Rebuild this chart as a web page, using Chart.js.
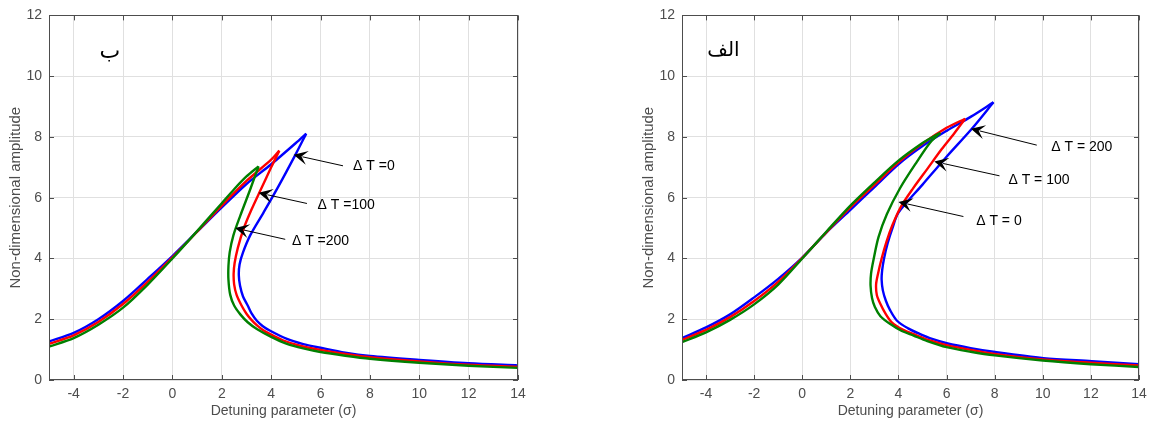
<!DOCTYPE html>
<html><head><meta charset="utf-8">
<script src="https://cdn.jsdelivr.net/npm/chart.js@4.4.1/dist/chart.umd.min.js"></script>
<style>
html,body{margin:0;padding:0;background:#fff;width:1165px;height:428px;overflow:hidden}
canvas{position:absolute;top:0}
</style></head><body>
<canvas id="left" width="540" height="428" style="left:0px"></canvas>
<canvas id="right" width="528" height="428" style="left:633px"></canvas>
<script>
// ---------- tick labels ----------
const xTicks = [-4, -2, 0, 2, 4, 6, 8, 10, 12, 14];
const yTicks = [0, 2, 4, 6, 8, 10, 12];

// ================= left panel (ب) =================
// ΔT = 0 (blue): upper branch up to the peak, then the return branch
const leftUp0x  = [-5,-4,-3,-2,-1,0,1,2,3,4,5,5.42];
const leftUp0y  = [1.27,1.55,2.0,2.6,3.33,4.08,4.88,5.68,6.45,7.1,7.8,8.11];
const leftRet0x = [5.42,4.98,4.30,3.69,3.15,2.86,2.72,2.69,2.74,2.86,3.05,3.2,3.42,3.65,3.96,4.64,5.3,6.0,7.0,8.0,10.0,12.0,14.0];
const leftRet0y = [8.11,7.41,6.38,5.51,4.76,4.2,3.8,3.45,3.1,2.75,2.45,2.2,1.95,1.78,1.62,1.35,1.18,1.06,0.9,0.79,0.66,0.55,0.48];
// ΔT = 100 (red)
const leftUp100x  = [-5,-4,-3,-2,-1,0,1,2,3,4,4.33];
const leftUp100y  = [1.19,1.47,1.91,2.5,3.23,4.04,4.88,5.74,6.55,7.25,7.55];
const leftRet100x = [4.33,4.0,3.6,3.2,2.88,2.65,2.52,2.48,2.5,2.6,2.8,3.0,3.2,3.45,3.75,4.5,5.2,6.0,7.0,8.0,10.0,12.0,14.0];
const leftRet100y = [7.55,7.0,6.3,5.6,4.97,4.35,3.85,3.5,3.15,2.8,2.45,2.18,1.98,1.78,1.6,1.3,1.12,0.99,0.86,0.75,0.61,0.5,0.43];
// ΔT = 200 (green)
const leftUp200x  = [-5,-4,-3,-2,-1,0,1,2,2.5,3,3.49];
const leftUp200y  = [1.10,1.38,1.82,2.38,3.14,4.0,4.9,5.82,6.28,6.7,7.03];
const leftRet200x = [3.49,3.15,2.75,2.47,2.32,2.27,2.27,2.34,2.5,2.75,3.05,3.42,4.0,4.64,5.3,6.0,7.0,8.0,10.0,12.0,14.0];
const leftRet200y = [7.03,6.27,5.41,4.76,4.2,3.75,3.3,2.81,2.45,2.16,1.9,1.68,1.42,1.19,1.04,0.92,0.8,0.70,0.57,0.47,0.40];

// ================= right panel (الف) =================
// ΔT = 0 (blue)
const rightUp0x  = [-5,-4,-3,-2,-1,0,1,2,3,4,5,6,7,7.95];
const rightUp0y  = [1.38,1.73,2.16,2.72,3.33,4.03,4.85,5.6,6.35,7.1,7.7,8.2,8.66,9.14];
const rightRet0x = [7.95,7.05,6.0,5.0,4.0,3.75,3.55,3.4,3.32,3.3,3.35,3.48,3.65,3.94,4.4,4.9,5.4,6.01,7.0,8.02,10.03,12.04,14.0];
const rightRet0y = [9.14,8.27,7.35,6.43,5.51,5.0,4.5,4.0,3.6,3.3,2.95,2.6,2.3,1.95,1.7,1.51,1.35,1.21,1.05,0.92,0.72,0.62,0.52];
// ΔT = 100 (red)
const rightUp100x  = [-5,-4,-3,-2,-1,0,1,2,3,4,5,6,6.77];
const rightUp100y  = [1.32,1.65,2.07,2.6,3.23,4.02,4.86,5.68,6.42,7.16,7.78,8.3,8.6];
const rightRet100x = [6.77,6.3,5.8,5.2,4.6,4.1,3.75,3.5,3.3,3.15,3.07,3.1,3.25,3.45,3.72,4.2,4.75,5.3,6.0,7.0,8.0,10.0,12.0,14.0];
const rightRet100y = [8.6,8.1,7.6,6.95,6.3,5.7,5.1,4.55,4.0,3.5,3.15,2.8,2.5,2.2,1.9,1.65,1.47,1.3,1.15,0.99,0.86,0.68,0.57,0.48];
// ΔT = 200 (green)
const rightUp200x  = [-5,-4,-3,-2,-1,0,1,2,3,4,5,5.5,5.74];
const rightUp200y  = [1.25,1.57,1.98,2.49,3.14,4.0,4.88,5.74,6.5,7.22,7.8,8.03,8.13];
const rightRet200x = [5.74,5.32,4.77,4.07,3.52,3.17,2.96,2.86,2.84,2.9,3.02,3.25,3.66,4.1,4.63,5.2,6.0,7.0,8.0,10.0,12.0,14.0];
const rightRet200y = [8.13,7.82,7.19,6.32,5.46,4.70,3.95,3.5,3.1,2.7,2.4,2.1,1.84,1.63,1.46,1.28,1.08,0.93,0.81,0.64,0.52,0.43];

const seriesColors = {dt0:'#0000ff', dt100:'#ff0000', dt200:'#008000'};

// annotation arrows (head, tail, label position in data units)
const leftNotes = [
  {hx:4.91,hy:7.41, tx:6.91,ty:7.05, lx:7.32,ly:7.03, text:'\u0394 T =0'},
  {hx:3.49,hy:6.16, tx:5.45,ty:5.81, lx:5.88,ly:5.75, text:'\u0394 T =100'},
  {hx:2.54,hy:5.0,  tx:4.57,ty:4.63, lx:4.84,ly:4.56, text:'\u0394 T =200'}
];
const rightNotes = [
  {hx:7.01,hy:8.27, tx:9.75,ty:7.73, lx:10.35,ly:7.65, text:'\u0394 T = 200'},
  {hx:5.49,hy:7.19, tx:8.20,ty:6.72, lx:8.57,ly:6.57, text:'\u0394 T = 100'},
  {hx:4.0,hy:5.86,  tx:6.70,ty:5.38, lx:7.23,ly:5.24, text:'\u0394 T = 0'}
];

const axisColor = '#4d4d4d';
const gridColor = '#e0e0e0';
const FONT = '"Liberation Sans", Arial, sans-serif';

const decoPlugin = {
  id: 'panelDeco',
  afterDraw(chart, args, opts) {
    const ctx = chart.ctx, a = chart.chartArea;
    const xs = chart.scales.x, ys = chart.scales.y;
    ctx.save();
    ctx.strokeStyle = axisColor; ctx.lineWidth = 1;
    ctx.strokeRect(Math.round(a.left)+0.5, Math.round(a.top)+0.5, Math.round(a.right-a.left)-1, Math.round(a.bottom-a.top)-1);
    ctx.beginPath();
    xTicks.forEach(v => {
      const p = Math.round(xs.getPixelForValue(v)) + 0.5;
      ctx.moveTo(p, a.bottom); ctx.lineTo(p, a.bottom - 5);
      ctx.moveTo(p, a.top); ctx.lineTo(p, a.top + 5);
    });
    yTicks.forEach(v => {
      const p = Math.round(ys.getPixelForValue(v)) + 0.5;
      ctx.moveTo(a.left, p); ctx.lineTo(a.left + 5, p);
      ctx.moveTo(a.right, p); ctx.lineTo(a.right - 5, p);
    });
    ctx.stroke();
    (opts.notes || []).forEach(n => {
      const hx = xs.getPixelForValue(n.hx), hy = ys.getPixelForValue(n.hy);
      const tx = xs.getPixelForValue(n.tx), ty = ys.getPixelForValue(n.ty);
      const ang = Math.atan2(hy - ty, hx - tx);
      const c = Math.cos(ang), s = Math.sin(ang);
      ctx.strokeStyle = '#000'; ctx.fillStyle = '#000'; ctx.lineWidth = 1;
      ctx.beginPath(); ctx.moveTo(tx, ty); ctx.lineTo(hx - 9*c, hy - 9*s); ctx.stroke();
      const L = 14, W = 7, N = 8;
      ctx.beginPath();
      ctx.moveTo(hx, hy);
      ctx.lineTo(hx - L*c + W*s, hy - L*s - W*c);
      ctx.lineTo(hx - N*c, hy - N*s);
      ctx.lineTo(hx - L*c - W*s, hy - L*s + W*c);
      ctx.closePath(); ctx.fill();
      ctx.font = '14px ' + FONT;
      ctx.textAlign = 'left'; ctx.textBaseline = 'middle';
      ctx.fillText(n.text, xs.getPixelForValue(n.lx), ys.getPixelForValue(n.ly));
    });
    if (opts.label) {
      ctx.font = (opts.label.size || 20) + 'px "DejaVu Sans", sans-serif';
      ctx.fillStyle = '#000'; ctx.textAlign = 'center'; ctx.textBaseline = 'middle';
      ctx.fillText(opts.label.text, xs.getPixelForValue(opts.label.x), ys.getPixelForValue(opts.label.y));
    }
    ctx.restore();
  }
};

function ds(name, xArr, yArr, color) {
  return {
    label: name,
    data: xArr.map((v, i) => ({x: v, y: yArr[i]})),
    showLine: true, borderColor: color, backgroundColor: color,
    borderWidth: 2.4, pointRadius: 0, tension: 0.3, fill: false
  };
}

function makeChart(id, datasets, notes, label) {
  return new Chart(document.getElementById(id), {
    type: 'scatter',
    data: {datasets},
    options: {
      responsive: false, animation: false, devicePixelRatio: 1,
      layout: {padding: {left: 0, right: 22, top: 10, bottom: 0}},
      plugins: {legend: {display: false}, tooltip: {enabled: false}, panelDeco: {notes, label}},
      scales: {
        x: {
          type: 'linear', min: -5, max: 14,
          afterBuildTicks: s => { s.ticks = xTicks.map(v => ({value: v})); },
          afterFit: s => { s.height = 48; },
          grid: {color: gridColor, drawTicks: false},
          border: {display: false},
          ticks: {font: {family: FONT, size: 14}, color: axisColor, padding: 6, maxRotation: 0},
          title: {display: true, text: 'Detuning parameter (\u03C3)', color: axisColor,
                  font: {family: FONT, size: 14}, padding: {top: 0, bottom: 8}}
        },
        y: {
          type: 'linear', min: 0, max: 12,
          afterBuildTicks: s => { s.ticks = yTicks.map(v => ({value: v})); },
          afterFit: s => { s.width = 49; },
          grid: {color: gridColor, drawTicks: false},
          border: {display: false},
          ticks: {font: {family: FONT, size: 14}, color: axisColor, padding: 7},
          title: {display: true, text: 'Non-dimensional amplitude', color: axisColor,
                  font: {family: FONT, size: 15}, padding: {top: 7, bottom: 0}}
        }
      }
    },
    plugins: [decoPlugin]
  });
}

makeChart('left', [
  ds('\u0394T=200', leftUp200x, leftUp200y, seriesColors.dt200),
  ds('\u0394T=200', leftRet200x, leftRet200y, seriesColors.dt200),
  ds('\u0394T=100', leftUp100x, leftUp100y, seriesColors.dt100),
  ds('\u0394T=100', leftRet100x, leftRet100y, seriesColors.dt100),
  ds('\u0394T=0', leftUp0x, leftUp0y, seriesColors.dt0),
  ds('\u0394T=0', leftRet0x, leftRet0y, seriesColors.dt0)
], leftNotes, {text: '\u0628', x: -2.53, y: 10.8, size: 22});

makeChart('right', [
  ds('\u0394T=200', rightUp200x, rightUp200y, seriesColors.dt200),
  ds('\u0394T=200', rightRet200x, rightRet200y, seriesColors.dt200),
  ds('\u0394T=100', rightUp100x, rightUp100y, seriesColors.dt100),
  ds('\u0394T=100', rightRet100x, rightRet100y, seriesColors.dt100),
  ds('\u0394T=0', rightUp0x, rightUp0y, seriesColors.dt0),
  ds('\u0394T=0', rightRet0x, rightRet0y, seriesColors.dt0)
], rightNotes, {text: '\u0627\u0644\u0641', x: -3.28, y: 10.83, size: 20});
</script>
</body></html>
